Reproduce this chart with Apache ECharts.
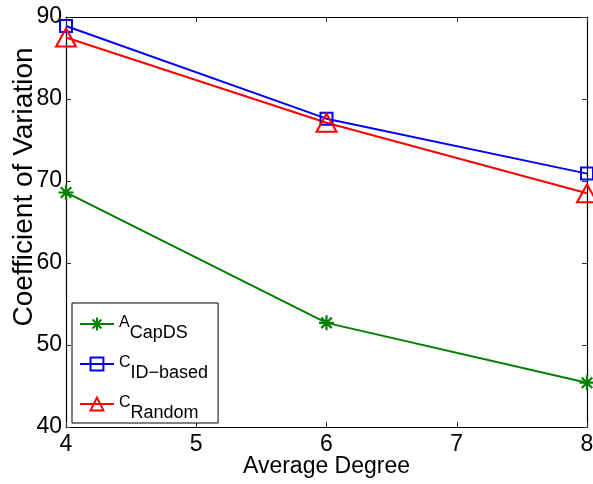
<!DOCTYPE html>
<html>
<head>
<meta charset="utf-8">
<script src="https://cdn.jsdelivr.net/npm/echarts@6/dist/echarts.min.js"></script>
<style>html,body{margin:0;padding:0;background:#fff}#c{width:593px;height:484px}</style>
</head>
<body>
<div id="c"></div>
<script>
var degrees = [4, 6, 8];
var aCapDS = [68.6, 52.7, 45.4];
var cIdBased = [88.9, 77.6, 70.9];
var cRandom = [87.5, 77.1, 68.5];
var xTicks = [4, 5, 6, 7, 8];
var yTicks = [40, 50, 60, 70, 80, 90];
var seriesNames = ['A_CapDS', 'C_ID-based', 'C_Random'];
var legendMain = {'A_CapDS': 'A', 'C_ID-based': 'C', 'C_Random': 'C'};
var legendSub = {'A_CapDS': 'CapDS', 'C_ID-based': 'ID\u2212based', 'C_Random': 'Random'};

var FONT = 'Liberation Sans, Arial, Helvetica, sans-serif';
var star = 'path://M0,-10L0,10M-10,0L10,0M-7,-7L7,7M-7,7L7,-7';

function pairs(vals) { return degrees.map(function (d, i) { return [d, vals[i]]; }); }

var chart = echarts.init(document.getElementById('c'));
var axisCommon = {
  axisLine: { show: true, lineStyle: { color: '#000', width: 1.2 } },
  axisTick: { show: true, inside: true, length: 5, lineStyle: { color: '#333' } },
  splitLine: { show: false }
};
chart.setOption({
  animation: false,
  backgroundColor: '#fff',
  grid: { left: 66, right: 6, top: 17, bottom: 57, containLabel: false, outerBoundsMode: 'none' },
  xAxis: [
    Object.assign({
      type: 'value', min: xTicks[0], max: xTicks[xTicks.length - 1], interval: 1,
      name: 'Average Degree', nameLocation: 'middle', nameGap: 28, nameMoveOverlap: false,
      nameTextStyle: { fontFamily: FONT, fontSize: 23, color: '#000' },
      axisLabel: { fontFamily: FONT, fontSize: 23, color: '#000', margin: 6 }
    }, axisCommon),
    Object.assign({
      type: 'value', position: 'top', min: xTicks[0], max: xTicks[xTicks.length - 1], interval: 1,
      axisLabel: { show: false }
    }, axisCommon)
  ],
  yAxis: [
    Object.assign({
      type: 'value', min: yTicks[0], max: yTicks[yTicks.length - 1], interval: 10,
      name: 'Coefficient of Variation', nameLocation: 'middle', nameGap: 28, nameMoveOverlap: false,
      nameTextStyle: { fontFamily: FONT, fontSize: 28, color: '#000', padding: [0, 0, 0, 70] },
      axisLabel: { fontFamily: FONT, fontSize: 23, color: '#000', margin: 4 }
    }, axisCommon),
    Object.assign({
      type: 'value', position: 'right', min: yTicks[0], max: yTicks[yTicks.length - 1], interval: 10,
      axisLabel: { show: false }
    }, axisCommon)
  ],
  legend: {
    orient: 'vertical', left: 72, top: 303,
    backgroundColor: '#fff',
    borderColor: '#000', borderWidth: 1, borderRadius: 0,
    padding: [12, 10, 1, 7],
    itemWidth: 34, itemHeight: 16, itemGap: 13,
    data: seriesNames,
    formatter: function (n) { return '{m|' + legendMain[n] + '}{s|' + legendSub[n] + '}'; },
    textStyle: {
      fontFamily: FONT, color: '#000',
      rich: {
        m: { fontFamily: FONT, fontSize: 16, color: '#000', padding: [0, 0, 2, 0] },
        s: { fontFamily: FONT, fontSize: 18, color: '#000', padding: [18, 0, 0, 0] }
      }
    }
  },
  series: [
    {
      name: seriesNames[0], type: 'line', data: pairs(aCapDS),
      symbol: star, symbolSize: 15,
      lineStyle: { color: '#008000', width: 2 },
      itemStyle: { color: 'rgba(0,0,0,0)', borderColor: '#008000', borderWidth: 2.2 }
    },
    {
      name: seriesNames[1], type: 'line', data: pairs(cIdBased),
      symbol: 'rect', symbolSize: 12,
      lineStyle: { color: '#0000ff', width: 2 },
      itemStyle: { color: 'rgba(0,0,0,0)', borderColor: '#0000ff', borderWidth: 2 }
    },
    {
      name: seriesNames[2], type: 'line', data: pairs(cRandom),
      symbol: 'triangle', symbolSize: [20, 18],
      lineStyle: { color: '#ff0000', width: 2 },
      itemStyle: { color: 'rgba(0,0,0,0)', borderColor: '#ff0000', borderWidth: 2 }
    }
  ]
});
</script>
</body>
</html>
